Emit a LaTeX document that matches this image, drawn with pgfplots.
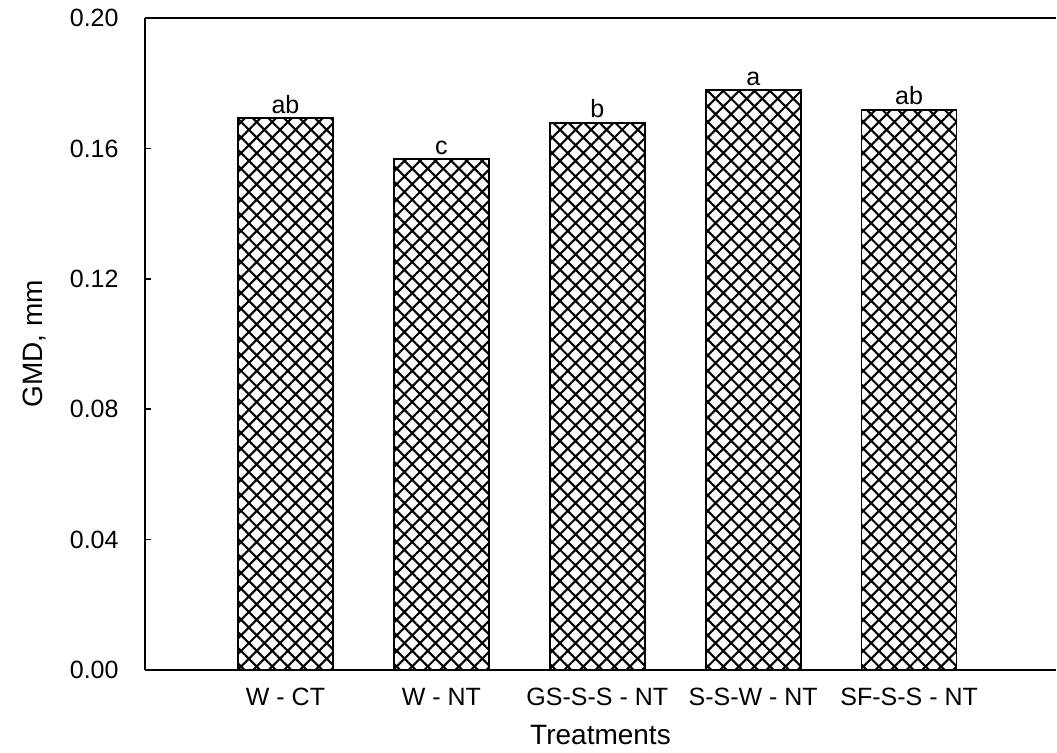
\documentclass[border=0pt]{standalone}
\usepackage{fontspec}
\setmainfont{Liberation Sans}
\usepackage{pgfplots}
\pgfplotsset{compat=1.18}
\usetikzlibrary{patterns.meta}
\begin{document}
\begin{tikzpicture}
\begin{axis}[
  at={(0,0)}, anchor=south west,
  width=455.5pt, height=326pt, scale only axis,
  xmin=-0.901, xmax=4.942, ymin=0, ymax=0.20,
  axis x line*=bottom, axis y line*=left,
  axis line style={line width=1pt},
  ytick={0,0.04,0.08,0.12,0.16,0.20},
  yticklabel style={/pgf/number format/fixed,/pgf/number format/fixed zerofill,/pgf/number format/precision=2,/pgf/number format/assume math mode=true,
    font=\fontsize{12.5}{14}\selectfont, xshift=-9.7pt},
  tick align=inside, major tick length=3pt, tick style={line width=0.8pt, black},
  xtick={0,1,2,3,4}, xticklabels={W - CT, W - NT, GS-S-S - NT, S-S-W - NT, SF-S-S - NT},
  xticklabel style={font=\fontsize{12.5}{14}\selectfont, anchor=base, yshift=-17.5pt},
  xtick style={draw=none},
  xlabel={Treatments}, ylabel={GMD, mm},
  label style={font=\fontsize{14}{16}\selectfont},
  xlabel style={at={([yshift=-37pt]axis description cs:0.5,0)}, anchor=base},
  ylabel style={at={([xshift=-51pt]axis description cs:0,0.5)}, anchor=base},
  clip=false,
]
\draw[line width=1pt] (rel axis cs:0,1) -- (rel axis cs:1,1);
\addplot[ybar, bar width=47.5pt, draw=black, line width=0.8pt,
  pattern={Hatch[angle=45,distance=5.5pt,line width=1.05pt]},
  point meta=explicit symbolic,
  nodes near coords, every node near coord/.append style={font=\fontsize{12.5}{14}\selectfont, inner sep=0pt, anchor=base, yshift=2.5pt}]
coordinates {(0,0.1693)[ab] (1,0.1567)[c] (2,0.1678)[b] (3,0.1779)[a] (4,0.1718)[ab]};
\end{axis}
\pgfresetboundingbox
\path[use as bounding box] (-72.5pt,-41pt) rectangle (456pt,335pt);
\end{tikzpicture}
\end{document}
